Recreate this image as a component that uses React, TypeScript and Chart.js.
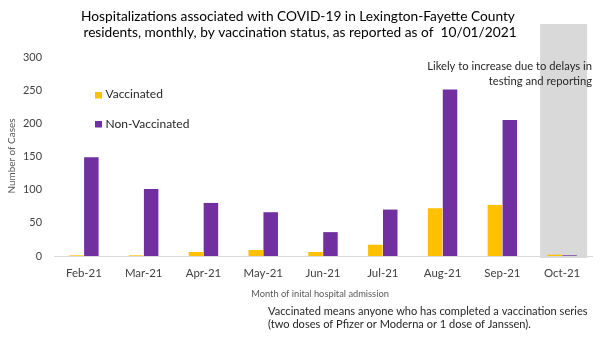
import React, { useEffect, useRef } from "react";
import { Chart, registerables } from "chart.js";

Chart.register(...registerables);

const categories = ["Feb-21", "Mar-21", "Apr-21", "May-21", "Jun-21", "Jul-21", "Aug-21", "Sep-21", "Oct-21"];
const vaccinated = [1, 1, 6, 9, 6, 17, 72, 77, 2];
const nonVaccinated = [149, 101, 80, 66, 36, 70, 251, 205, 1];
const yTicks = [0, 50, 100, 150, 200, 250, 300];
const titleLines = [
  "Hospitalizations associated with COVID-19 in Lexington-Fayette County",
  "residents, monthly, by vaccination status, as reported as of  10/01/2021",
];
const noteLines = ["Likely to increase due to delays in", "testing and reporting"];
const footLines = [
  "Vaccinated means anyone who has completed a vaccination series",
  "(two doses of Pfizer or Moderna or 1 dose of Janssen).",
];
const xTitle = "Month of inital hospital admission";
const yTitle = "Number of Cases";
const seriesNames = ["Vaccinated", "Non-Vaccinated"];
const colors = ["#FFC000", "#7030A0"];

const FONT = "Lato, 'Open Sans', sans-serif";

function fitSize(text: string, width: number): number {
  const c = document.createElement("canvas").getContext("2d")!;
  c.font = `100px ${FONT}`;
  return (100 * width) / c.measureText(text).width;
}

export default function App() {
  const ref = useRef<HTMLCanvasElement>(null);
  useEffect(() => {
    document.body.style.margin = "0";
    const sTitle = fitSize(titleLines[0], 434);
    const sNote = fitSize(noteLines[0], 165);
    const sLegend = fitSize(seriesNames[1], 84);
    const sXTitle = fitSize(xTitle, 138);
    const sYTitle = fitSize(yTitle, 75);
    const sFoot = fitSize(footLines[0], 320);
    const sXTick = fitSize(categories[0], 36);
    const sYTick = fitSize("200", 19);

    const decor = {
      id: "decor",
      beforeDatasetsDraw(chart: any) {
        const { ctx } = chart;
        const x = chart.scales.x;
        const cx = x.getPixelForValue(categories.length - 1);
        ctx.save();
        ctx.fillStyle = "#D9D9D9";
        ctx.fillRect(cx - 22, 24, 47, 258 - 24);
        ctx.restore();
      },
      afterDraw(chart: any) {
        const { ctx } = chart;
        ctx.save();
        ctx.textBaseline = "alphabetic";
        ctx.fillStyle = "#000";
        ctx.font = `${sTitle}px ${FONT}`;
        ctx.textAlign = "center";
        ctx.fillText(titleLines[0], 298, 20.5);
        ctx.fillText(titleLines[1], 300, 36.5);
        ctx.fillStyle = "#262626";
        ctx.font = `${sNote}px ${FONT}`;
        ctx.textAlign = "right";
        ctx.fillText(noteLines[0], 592, 70);
        ctx.fillText(noteLines[1], 592, 85);
        ctx.textAlign = "left";
        ctx.font = `${sLegend}px ${FONT}`;
        const ly = [98.3, 128.3];
        const sq = [92, 121];
        for (let i = 0; i < 2; i++) {
          ctx.fillStyle = colors[i];
          ctx.fillRect(95, sq[i], 7, 6.5);
          ctx.fillStyle = "#262626";
          ctx.fillText(seriesNames[i], 105.5, ly[i]);
        }
        ctx.fillStyle = "#595959";
        ctx.font = `${sXTitle}px ${FONT}`;
        ctx.textAlign = "center";
        ctx.fillText(xTitle, 320, 297);
        ctx.save();
        ctx.font = `${sYTitle}px ${FONT}`;
        ctx.translate(15, 156);
        ctx.rotate(-Math.PI / 2);
        ctx.fillText(yTitle, 0, 0);
        ctx.restore();
        ctx.fillStyle = "#262626";
        ctx.font = `${sFoot}px ${FONT}`;
        ctx.textAlign = "left";
        ctx.fillText(footLines[0], 268, 315);
        ctx.fillText(footLines[1], 268, 328);
        ctx.restore();
      },
    };

    const chart = new Chart(ref.current!, {
      type: "bar",
      data: {
        labels: categories,
        datasets: [
          { label: seriesNames[0], data: vaccinated, backgroundColor: colors[0], categoryPercentage: 0.5, barPercentage: 0.97 },
          { label: seriesNames[1], data: nonVaccinated, backgroundColor: colors[1], categoryPercentage: 0.5, barPercentage: 0.97 },
        ],
      },
      options: {
        animation: false,
        responsive: false,
        layout: { padding: { left: 0, right: 8, top: 57, bottom: 0 } },
        plugins: { legend: { display: false }, title: { display: false }, tooltip: { enabled: false } },
        scales: {
          x: {
            grid: { display: false, drawTicks: false },
            border: { display: true, color: "#D9D9D9", width: 1 },
            ticks: { color: "#404040", font: { family: FONT, size: sXTick }, padding: 10, maxRotation: 0 },
            afterFit: (s: any) => { s.height = 339 - 256; },
          },
          y: {
            min: 0,
            max: 300,
            afterBuildTicks: (s: any) => { s.ticks = yTicks.map((v) => ({ value: v })); },
            grid: { display: false, drawTicks: false },
            border: { display: false },
            ticks: { color: "#404040", font: { family: FONT, size: sYTick }, padding: 12 },
            afterFit: (s: any) => { s.width = 54; },
          },
        },
      },
      plugins: [decor],
    });
    return () => chart.destroy();
  }, []);
  return <canvas ref={ref} width={600} height={339} style={{ display: "block" }} />;
}
